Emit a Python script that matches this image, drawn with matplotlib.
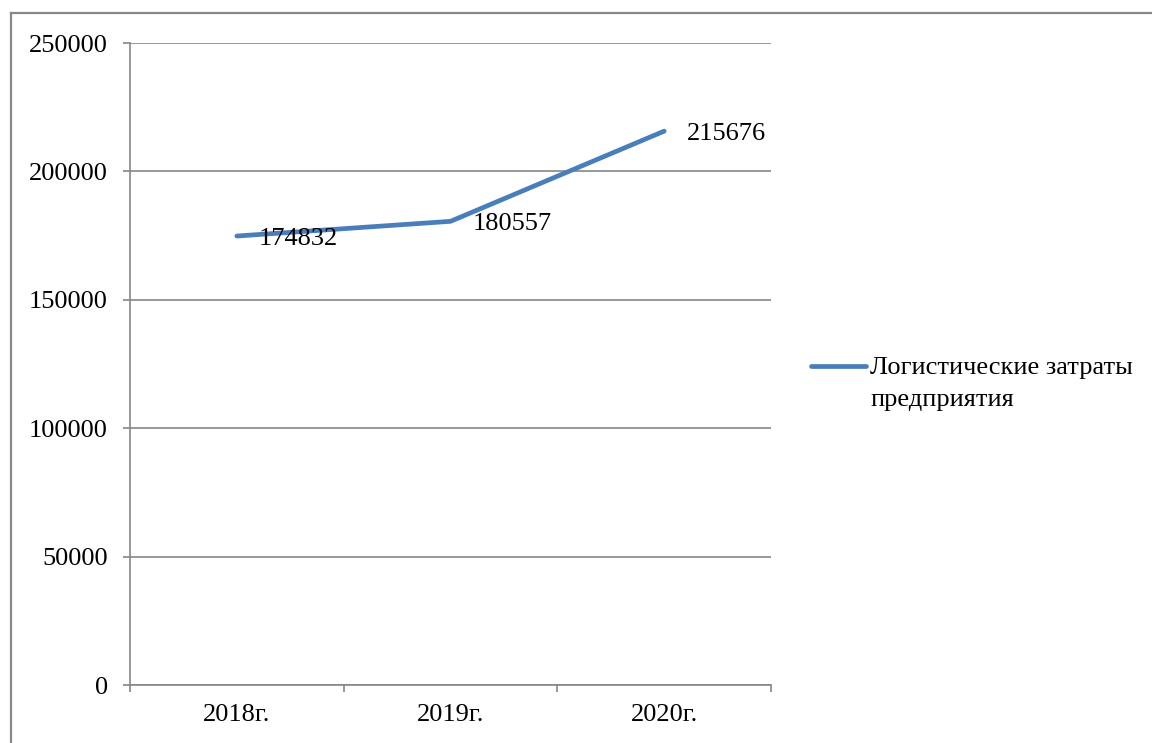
import matplotlib
matplotlib.use("Agg")
import matplotlib.pyplot as plt
from matplotlib.lines import Line2D
from matplotlib.ticker import FixedLocator

plt.rcParams['font.family'] = ['Liberation Serif', 'DejaVu Serif']

# Data
years = ["2018г.", "2019г.", "2020г."]
costs = [174832, 180557, 215676]
series_name = "Логистические затраты\nпредприятия"
y_ticks = [0, 50000, 100000, 150000, 200000, 250000]

line_color = "#4A7EBB"
grid_color = "#868686"

fig = plt.figure(figsize=(11.52, 7.43), dpi=100)
ax = fig.add_axes([130 / 1152, 58 / 743, 641 / 1152, 642 / 743])

x = list(range(len(years)))
ax.plot(x, costs, color=line_color, linewidth=3.4, solid_capstyle='round', zorder=3)

# data labels to the right of each point
for xi, v in zip(x, costs):
    ax.annotate(str(v), (xi, v), xytext=(16, -2), textcoords='offset points',
                ha='left', va='center', fontsize=19, color='black', zorder=4)

ax.set_xlim(-0.5, len(years) - 0.5)
ax.set_ylim(0, 250000)
ax.set_yticks(y_ticks)
ax.set_yticklabels([str(t) for t in y_ticks])
ax.set_xticks(x)
ax.set_xticklabels(years)
ax.xaxis.set_minor_locator(FixedLocator([i - 0.5 for i in range(len(years) + 1)]))

ax.yaxis.grid(True, color=grid_color, linewidth=1.2)
ax.set_axisbelow(True)

for side in ['top', 'right']:
    ax.spines[side].set_visible(False)
for side in ['left', 'bottom']:
    ax.spines[side].set_color(grid_color)
    ax.spines[side].set_linewidth(1.2)

ax.tick_params(axis='y', which='major', length=5, width=1.2, color=grid_color,
               pad=11, labelsize=19)
ax.tick_params(axis='x', which='major', length=0, pad=14, labelsize=19)
ax.tick_params(axis='x', which='minor', length=5, width=1.2, color=grid_color, direction='out')

# legend drawn by hand so the key sits on the first text line
fig.add_artist(Line2D([811 / 1152, 866 / 1152], [1 - 366 / 743, 1 - 366 / 743],
                      transform=fig.transFigure, color=line_color, linewidth=3.4,
                      solid_capstyle='round'))
fig.text(870 / 1152, 1 - 357 / 743, series_name, ha='left', va='top',
         fontsize=19, linespacing=1.6)

# chart area border (partly outside the picture)
fig.add_artist(Line2D([11 / 1152, 11 / 1152], [0, 1 - 13 / 743],
                      transform=fig.transFigure, color="#888888", linewidth=1.6))
fig.add_artist(Line2D([11 / 1152, 1], [1 - 13 / 743, 1 - 13 / 743],
                      transform=fig.transFigure, color="#888888", linewidth=1.6))

fig.savefig("out.png", dpi=100)
